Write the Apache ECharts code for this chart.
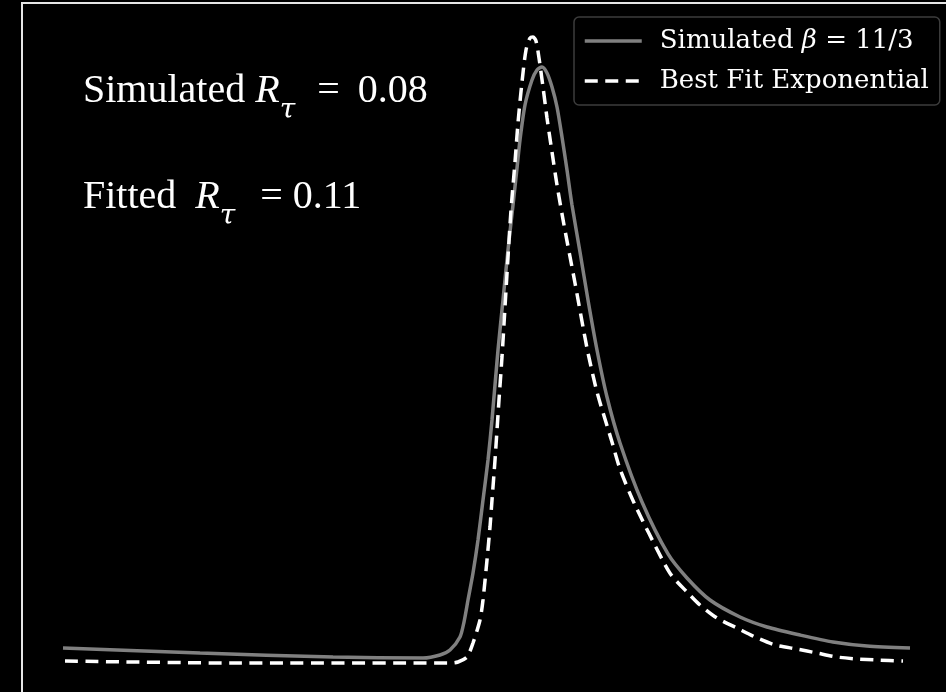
<!DOCTYPE html>
<html>
<head>
<meta charset="utf-8">
<style>
  html, body { margin: 0; padding: 0; background: #000; }
  #chart { width: 946px; height: 692px; }
</style>
<script src="https://cdn.jsdelivr.net/npm/echarts@6/dist/echarts.min.js"></script>
</head>
<body>
<div id="chart"></div>
<script>
// Simulated pulse (beta = 11/3): time samples and normalised amplitude
const simTime = [4.1, 17.8, 31.1, 40.1, 41.8, 42.8, 43.8, 44.2, 44.6, 45.1, 45.6, 46.1, 46.6, 47.0, 47.6, 48.1, 48.6, 49.1, 49.5, 49.8, 50.3, 51.0, 51.5, 52.0, 52.5, 53.0, 53.5, 54.0, 54.5, 55.0, 55.8, 56.6, 57.5, 58.5, 59.8, 62.0, 64.6, 66.5, 68.8, 71.8, 74.5, 77.8, 81.1, 84.5, 88.8];
const simAmp  = [7.86, 7.14, 6.57, 6.43, 6.86, 7.57, 9.43, 11.57, 14.71, 18.57, 23.29, 29.0, 34.71, 40.43, 50.43, 57.57, 64.71, 71.14, 76.43, 80.43, 85.43, 89.0, 90.43, 90.86, 90.0, 88.0, 85.14, 80.86, 76.14, 71.14, 64.43, 57.57, 50.43, 43.71, 37.14, 28.71, 21.29, 17.86, 14.71, 12.29, 10.86, 9.71, 8.71, 8.14, 7.86];

// Best-fit exponential pulse
const fitTime = [4.3, 21.1, 42.8, 43.6, 44.5, 45.1, 45.8, 46.1, 46.5, 46.8, 47.0, 47.3, 47.7, 48.0, 48.3, 48.6, 48.9, 49.3, 49.6, 50.0, 50.4, 50.8, 51.1, 51.4, 51.7, 52.1, 52.5, 53.0, 53.5, 54.2, 55.3, 56.5, 57.5, 59.0, 59.8, 61.3, 64.1, 65.0, 66.5, 67.8, 69.5, 71.5, 73.3, 75.3, 77.5, 79.5, 81.5, 83.5, 85.5, 88.1];
const fitAmp  = [6.0, 5.71, 5.71, 5.86, 6.57, 8.57, 11.86, 14.71, 20.43, 25.14, 29.0, 34.71, 43.29, 49.43, 56.57, 63.71, 70.43, 77.29, 82.86, 88.71, 93.29, 95.0, 95.14, 94.57, 92.14, 88.0, 83.57, 78.71, 74.0, 68.29, 60.0, 50.71, 44.43, 37.29, 33.43, 28.29, 20.29, 18.14, 15.86, 14.0, 12.14, 10.71, 9.43, 8.29, 7.71, 7.14, 6.57, 6.29, 6.14, 6.0];

const seriesNames = ['Simulated β = 11/3', 'Best Fit Exponential'];
const legendLabels = {
  'Simulated β = 11/3': '{g|}{t|Simulated }{i|β}{t| = 11/3}',
  'Best Fit Exponential': '{g|}{t|Best Fit Exponential}'
};

const pair = (xs, ys) => xs.map((x, i) => [x, ys[i]]);

const chart = echarts.init(document.getElementById('chart'));

const serif = '"Liberation Serif", "Times New Roman", serif';
const mainText = { fontFamily: serif, fontSize: 40, fill: '#ffffff', lineHeight: 40, verticalAlign: 'top' };
const italicText = Object.assign({}, mainText, { fontStyle: 'italic' });
const subText = { fontFamily: '"DejaVu Serif", serif', fontSize: 28, fontStyle: 'italic', fill: '#ffffff', lineHeight: 80, verticalAlign: 'middle' };
const annotationRich = {
  n: mainText,
  r: italicText,
  r2: Object.assign({}, italicText, { padding: [0, 0, 0, 9] }),
  s: subText,
  e1: Object.assign({}, mainText, { padding: [0, 18, 0, 22] }),
  e2: Object.assign({}, mainText, { padding: [0, 10, 0, 25] })
};

chart.setOption({
  backgroundColor: '#000000',
  animation: false,
  // plot frame continues past the right and bottom edges of the canvas
  grid: {
    left: 22, top: 3, width: 1000, height: 700,
    outerBoundsMode: 'none',
    show: true, borderColor: '#e6e6e6', borderWidth: 2,
    backgroundColor: 'transparent'
  },
  xAxis: { type: 'value', min: 0, max: 100, show: false, splitLine: { show: false } },
  yAxis: { type: 'value', min: 0, max: 100, show: false, splitLine: { show: false } },
  legend: {
    left: 574, top: 17, orient: 'vertical',
    data: seriesNames,
    itemWidth: 57, itemHeight: 22, itemGap: 14,
    padding: [11, 11, 11, 9],
    backgroundColor: '#000000',
    borderColor: '#3c3c3c', borderWidth: 1.5, borderRadius: 5,
    itemStyle: { opacity: 0 },
    lineStyle: { width: 3.5 },
    formatter: name => legendLabels[name],
    textStyle: {
      color: '#ffffff',
      rich: {
        g: { width: 13 },
        t: { fontFamily: '"DejaVu Serif", serif', fontSize: 26, lineHeight: 22, color: '#ffffff' },
        i: { fontFamily: '"DejaVu Serif", serif', fontSize: 26, lineHeight: 22, fontStyle: 'italic', color: '#ffffff' }
      }
    }
  },
  graphic: [
    {
      type: 'text', left: 83, top: 71, silent: true, z: 10,
      style: {
        text: '{n|Simulated }{r|R}{s|τ}{e1|=}{n|0.08}',
        fill: '#ffffff',
        rich: annotationRich
      }
    },
    {
      type: 'text', left: 83, top: 177, silent: true, z: 10,
      style: {
        text: '{n|Fitted }{r2|R}{s|τ}{e2|=}{n|0.11}',
        fill: '#ffffff',
        rich: annotationRich
      }
    }
  ],
  series: [
    {
      name: seriesNames[0], type: 'line',
      data: pair(simTime, simAmp),
      smooth: 0.25,
      symbol: 'none', showSymbol: false,
      lineStyle: { color: '#808080', width: 3.5 },
      itemStyle: { color: '#808080' }
    },
    {
      name: seriesNames[1], type: 'line',
      data: pair(fitTime, fitAmp),
      smooth: 0.25,
      symbol: 'none', showSymbol: false,
      lineStyle: { color: '#ffffff', width: 3.5, type: [13, 7.5] },
      itemStyle: { color: '#ffffff' }
    }
  ]
});
</script>
</body>
</html>
